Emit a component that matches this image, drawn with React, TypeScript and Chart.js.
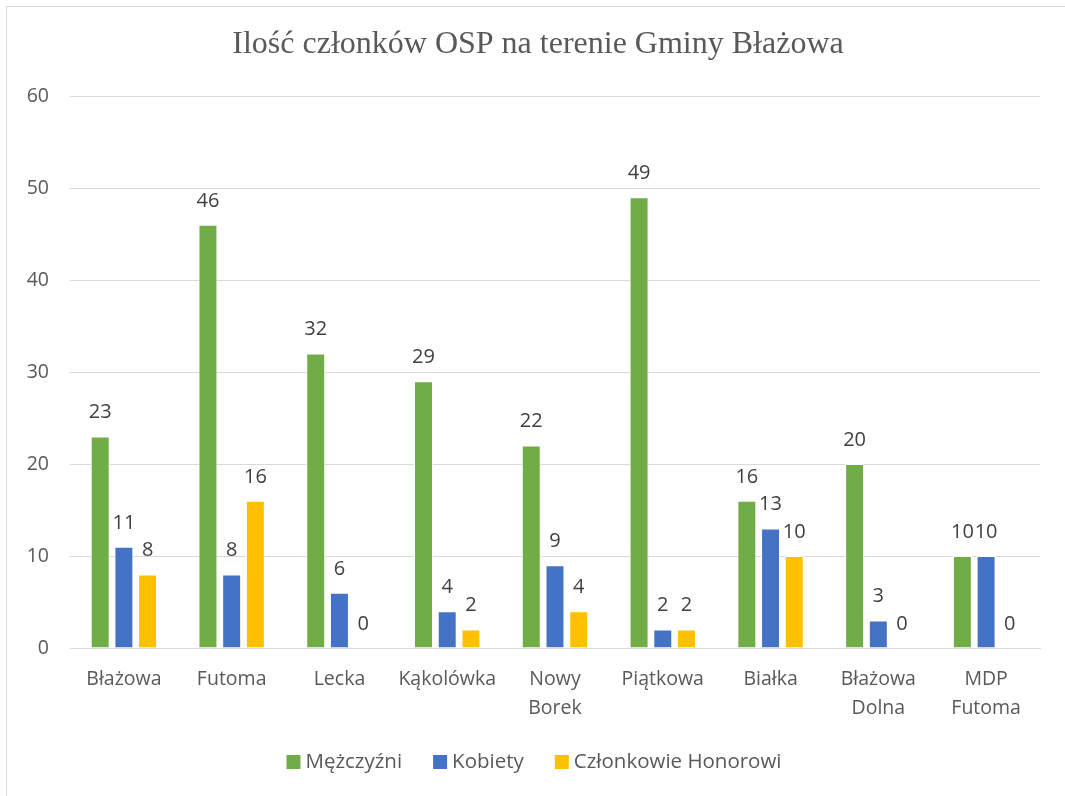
import React, { useEffect, useRef } from "react";
import { Chart, registerables } from "chart.js";

Chart.register(...registerables);

const TITLE = "Ilość członków OSP na terenie Gminy Błażowa";
const categories: (string | string[])[] = [
  "Błażowa",
  "Futoma",
  "Lecka",
  "Kąkolówka",
  ["Nowy", "Borek"],
  "Piątkowa",
  "Białka",
  ["Błażowa", "Dolna"],
  ["MDP", "Futoma"],
];
const seriesNames = ["Mężczyźni", "Kobiety", "Członkowie Honorowi"];
const men = [23, 46, 32, 29, 22, 49, 16, 20, 10];
const women = [11, 8, 6, 4, 9, 2, 13, 3, 10];
const honorary = [8, 16, 0, 2, 4, 2, 10, 0, 0];
const colors = ["#70AD47", "#4472C4", "#FFC000"];
const yTicks = { min: 0, max: 60, step: 10 };

const FONT = "'Open Sans', 'DejaVu Sans', sans-serif";
const TEXT = "#595959";

const titlePlugin = {
  id: "customTitle",
  afterDraw(chart: any) {
    const ctx = chart.ctx;
    ctx.save();
    ctx.font = "32px 'Liberation Serif', 'DejaVu Serif', serif";
    ctx.fillStyle = TEXT;
    ctx.textAlign = "center";
    ctx.textBaseline = "middle";
    ctx.fillText(TITLE, 538, 45);
    ctx.restore();
  },
};

const labelPlugin = {
  id: "dataLabels",
  afterDatasetsDraw(chart: any) {
    const ctx = chart.ctx;
    ctx.save();
    ctx.font = `20px ${FONT}`;
    ctx.fillStyle = "#404040";
    ctx.textAlign = "center";
    ctx.textBaseline = "middle";
    chart.data.datasets.forEach((ds: any, i: number) => {
      const meta = chart.getDatasetMeta(i);
      meta.data.forEach((bar: any, j: number) => {
        ctx.fillText(String(ds.data[j]), bar.x, bar.y - 24);
      });
    });
    ctx.restore();
  },
};

const legendPlugin = {
  id: "customLegend",
  afterDraw(chart: any) {
    const ctx = chart.ctx;
    ctx.save();
    ctx.font = `20.5px ${FONT}`;
    ctx.textBaseline = "middle";
    const box = 14;
    const gapBoxText = 5;
    const gapItems = 31;
    const items = chart.data.datasets.map((ds: any) => ({
      label: ds.label,
      color: ds.backgroundColor,
      w: box + gapBoxText + ctx.measureText(ds.label).width,
    }));
    const total =
      items.reduce((s: number, it: any) => s + it.w, 0) + gapItems * (items.length - 1);
    let x = 534 - total / 2;
    const y = 762;
    items.forEach((it: any) => {
      ctx.fillStyle = it.color;
      ctx.fillRect(x, y - box / 2, box, box);
      ctx.fillStyle = TEXT;
      ctx.textAlign = "left";
      ctx.fillText(it.label, x + box + gapBoxText, y);
      x += it.w + gapItems;
    });
    ctx.restore();
  },
};

export default function App() {
  const ref = useRef<HTMLCanvasElement | null>(null);
  useEffect(() => {
    if (!ref.current) return;
    const data = [men, women, honorary];
    const chart = new Chart(ref.current, {
      type: "bar",
      data: {
        labels: categories,
        datasets: seriesNames.map((name, i) => ({
          label: name,
          data: data[i],
          backgroundColor: colors[i],
          borderColor: "#ffffff",
          borderWidth: 1,
          categoryPercentage: 0.66,
          barPercentage: 0.8,
        })),
      },
      options: {
        responsive: false,
        animation: false,
        devicePixelRatio: 1,
        layout: { padding: { top: 96, right: 25, left: 0, bottom: 0 } },
        plugins: {
          legend: { display: false },
          title: { display: false },
          tooltip: { enabled: false },
        },
        scales: {
          x: {
            afterFit: (s: any) => {
              s.height = 148;
            },
            grid: { display: false, drawTicks: false },
            border: { display: true, color: "#d9d9d9", width: 1 },
            ticks: {
              color: TEXT,
              font: { family: FONT, size: 19.5, lineHeight: 1.5 },
              padding: 16.5,
              maxRotation: 0,
              autoSkip: false,
            },
          },
          y: {
            min: yTicks.min,
            max: yTicks.max,
            afterFit: (s: any) => {
              s.width = 70;
            },
            grid: { color: "#d9d9d9", lineWidth: 1, drawTicks: false },
            border: { display: false },
            ticks: {
              stepSize: yTicks.step,
              color: TEXT,
              font: { family: FONT, size: 19.5 },
              padding: 21,
            },
          },
        },
      },
      plugins: [titlePlugin, labelPlugin, legendPlugin],
    });
    return () => chart.destroy();
  }, []);

  return (
    <div
      style={{
        position: "fixed",
        left: 0,
        top: 0,
        width: 1065,
        height: 796,
        background: "#fff",
        overflow: "hidden",
      }}
    >
      <div
        style={{
          position: "absolute",
          left: 6,
          top: 6,
          width: 2000,
          height: 2000,
          borderTop: "1px solid #d9d9d9",
          borderLeft: "1px solid #d9d9d9",
        }}
      />
      <canvas
        ref={ref}
        width={1065}
        height={796}
        style={{ position: "absolute", left: 0, top: 0, width: 1065, height: 796 }}
      />
    </div>
  );
}
